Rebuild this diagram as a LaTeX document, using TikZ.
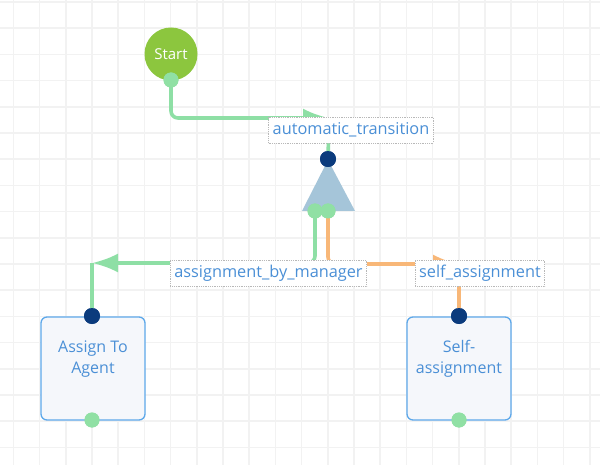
\documentclass[tikz,border=0pt]{standalone}
\usepackage{fontspec}
\setmainfont{Open Sans}
\usetikzlibrary{arrows.meta}
\definecolor{gridc}{HTML}{F2F2F2}
\definecolor{startg}{HTML}{8CC63E}
\definecolor{portg}{HTML}{90E0A4}
\definecolor{conng}{HTML}{8EDFA5}
\definecolor{navy}{HTML}{0B3B7D}
\definecolor{gwc}{HTML}{A5C5D9}
\definecolor{orng}{HTML}{F8B778}
\definecolor{txtb}{HTML}{4A8FD6}
\definecolor{boxb}{HTML}{5DA8EA}
\definecolor{boxf}{HTML}{F5F7FB}
\definecolor{lblb}{HTML}{B8B8B8}
\begin{document}
\begin{tikzpicture}[x=1pt,y=-1pt,
  gridline/.style={draw=gridc,line width=1.6pt},
  conn/.style={line width=3.6pt,rounded corners=7pt},
  tipg/.style={-{Latex[length=26pt,width=19pt]}},
  portin/.style={circle,fill=navy,minimum size=16pt,inner sep=0pt},
  portout/.style={circle,fill=portg,minimum size=15pt,inner sep=0pt},
  taskbox/.style={draw=boxb,line width=1.3pt,fill=boxf,rounded corners=6pt,
    minimum width=104pt,minimum height=103pt,inner sep=0pt},
  tasktext/.style={align=center,text=txtb,font=\fontsize{16}{21}\selectfont,inner sep=0pt},
  lbl/.style={draw=lblb,densely dotted,line width=0.8pt,fill=white,text=txtb,
    font=\fontsize{16.3}{18}\selectfont,inner xsep=4pt,minimum height=26pt,inner ysep=0pt}
]
\useasboundingbox (0,0) rectangle (600,465);
\fill[white] (0,0) rectangle (600,465);
% grid
\foreach \i in {0,...,22} \draw[gridline] ({13.3+26.2*\i},0) -- ({13.3+26.2*\i},465);
\foreach \j in {0,...,17} \draw[gridline] (0,{2+26.2*\j}) -- (600,{2+26.2*\j});

% nodes
\node[circle,fill=startg,minimum size=53pt,inner sep=0pt,text=white,
  font=\fontsize{15}{16}\selectfont] (start) at (171,54) {Start};
\node[taskbox] (agent) at (93,368.5) {};
\node[tasktext] (agentt) at (93,359) {Assign To\\Agent};
\node[taskbox] (self) at (459,368.5) {};
\node[tasktext] (selft) at (459,359) {Self-\\assignment};

\coordinate (b1) at (329,118);
\coordinate (b2) at (92,263);
\coordinate (b3) at (459,264);

% gateway triangle
\fill[gwc] (328,160) -- (302,211) -- (355,211) -- cycle;

% ports
\path (171,80) node[portout] (startout) {};
\path (328,159) node[portin] (gwin) {};
\path (315,211) node[portout] (gwout1) {};
\path (328,211) node[portout] (gwout2) {};
\path (92,316) node[portin] (agentin) {};
\path (92,420) node[portout] (agentout) {};
\path (459,316) node[portin] (selfin) {};
\path (459,420) node[portout] (selfout) {};

% connectors
\draw[conn,draw=conng,tipg] (startout.center) |- (b1);
\draw[conn,draw=conng] (b1) -- (gwin.center);
\draw[conn,draw=conng,tipg] (gwout1.center) |- (b2);
\draw[conn,draw=conng] (b2) -- (agentin.center);
\draw[conn,draw=orng,tipg] (gwout2.center) |- (b3);
\draw[conn,draw=orng] (b3) -- (selfin.center);

% ports on top
\foreach \p in {startout,gwout1,gwout2,agentout,selfout}
  \fill[portg] (\p.center) circle (7.5pt);
\foreach \p in {gwin,agentin,selfin}
  \fill[navy] (\p.center) circle (8pt);

% labels
\node[lbl] (l1) at (351,130) {automatic\_transition};
\node[lbl] (l2) at (268.5,273.5) {assignment\_by\_manager};
\node[lbl] (l3) at (480,273.5) {self\_assignment};
\end{tikzpicture}
\end{document}
